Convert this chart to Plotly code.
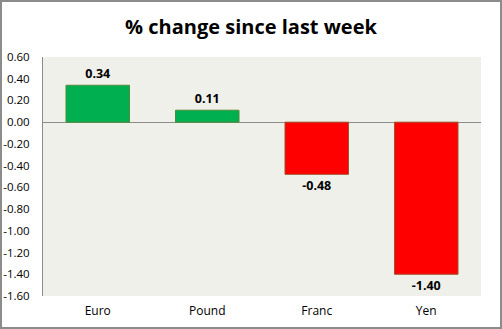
import plotly.graph_objects as go

categories = ["Euro", "Pound", "Franc", "Yen"]
values = [0.34, 0.11, -0.48, -1.40]
bar_colors = ["#00B050", "#00B050", "#FF0000", "#FF0000"]
line_colors = ["#4F8A3A", "#4F8A3A", "#A0522D", "#A0522D"]
tick_vals = [0.6, 0.4, 0.2, 0.0, -0.2, -0.4, -0.6, -0.8, -1.0, -1.2, -1.4, -1.6]
tick_text = [f"{v:.2f}" for v in tick_vals]

W, H = 502, 329
L, R, T, B = 43, 21, 57, 33
pw, ph = W - L - R, H - T - B

fig = go.Figure(go.Bar(
    x=categories, y=values,
    marker=dict(color=bar_colors, line=dict(color=line_colors, width=1)),
    width=0.58,
    text=[f"{v:.2f}" for v in values],
    textposition="outside",
    textfont=dict(family="Open Sans", size=12.5, color="#000000", weight="bold"),
    cliponaxis=False,
))

fig.update_layout(
    width=W, height=H,
    margin=dict(l=L, r=R, t=T, b=B),
    paper_bgcolor="white",
    plot_bgcolor="#EFF0E9",
    showlegend=False,
    title=dict(text="<b>% change since last week</b>", x=0.5, xanchor="center",
               y=1 - 27 / H, yanchor="middle",
               font=dict(family="Open Sans", size=20, color="#000000")),
    font=dict(family="Open Sans", size=12, color="#000000"),
    xaxis=dict(showgrid=False, showline=False, ticks="", tickfont=dict(size=12),
               ticklabelstandoff=6, automargin=False),
    yaxis=dict(range=[-1.6, 0.6], tickvals=tick_vals, ticktext=tick_text,
               showgrid=False, zeroline=True, zerolinecolor="#8C8C8C", zerolinewidth=1,
               showline=True, linecolor="#8C8C8C", linewidth=1, ticks="",
               ticklabelstandoff=10, tickfont=dict(size=11.5), automargin=False),
    shapes=[dict(type="rect", xref="paper", yref="paper",
                 x0=(1 - L) / pw, x1=(W - 1 - L) / pw,
                 y0=(H - B - (H - 1)) / ph, y1=(H - B - 1) / ph,
                 line=dict(color="#8C8C8C", width=2), fillcolor="rgba(0,0,0,0)",
                 layer="above")],
)

fig.write_html("out.html")
